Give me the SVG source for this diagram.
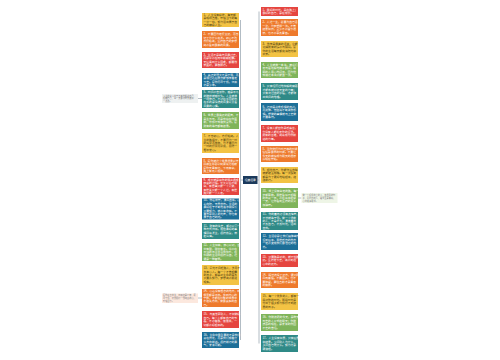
<svg xmlns="http://www.w3.org/2000/svg" width="500" height="360" viewBox="0 0 500 360">
<style>
text{font-family:"Noto Sans CJK SC","Noto Sans",sans-serif;font-size:2.8px}
.w{fill:#fff}.d{fill:#4a3a10}.n{fill:#7a7a7a;font-size:2.2px}
.y{fill:#f3c344}.o{fill:#ee7a2c}.r{fill:#e5453f}.b{fill:#1d6f98}.t{fill:#2f8a87}.g{fill:#7fb45a}
.ln{stroke:#a9b4bd;stroke-width:0.9;fill:none}
</style>
<rect width="500" height="360" fill="#fff"/>
<g id="connectors">
<path class="ln" d="M240.5 20V340M240.5 180H243M259 11.5V343.5M257.5 180H259"/>
<path class="ln" d="M198 98.5H202M198 298H202M298 198H301.5"/>
</g>
<g id="center"><rect x="243" y="176" width="14.5" height="8" fill="#1b3a5c"/><text x="250.25" y="181" class="w" text-anchor="middle">经典语录</text></g>
<g id="L1"><rect class="y" x="202" y="13" width="37" height="14"/><text class="d" y="15.8"><tspan x="203.5">1、人生没有彩排，每天都</tspan><tspan x="203.5" dy="3.4">是现场直播，珍惜当下的每</tspan><tspan x="203.5" dy="3.4">一分一秒，努力活出属于自</tspan><tspan x="203.5" dy="3.4">己的精彩人生。</tspan></text></g>
<g id="L2"><rect class="o" x="202" y="31" width="37" height="17"/><text class="w" y="35.3"><tspan x="203.5">2、不要因为走得太远，而忘</tspan><tspan x="203.5" dy="3.4">记了为什么出发。初心不改</tspan><tspan x="203.5" dy="3.4">方得始终，坚持自己的梦想</tspan><tspan x="203.5" dy="3.4">终会看到最美的风景。</tspan></text></g>
<g id="L3"><rect class="r" x="202" y="52" width="37" height="16"/><text class="w" y="55.8"><tspan x="203.5">3、生活不是等待风暴过去，</tspan><tspan x="203.5" dy="3.4">而是学会在雨中翩翩起舞。</tspan><tspan x="203.5" dy="3.4">无论遇到什么困难，都要微</tspan><tspan x="203.5" dy="3.4">笑面对，勇敢前行。</tspan></text></g>
<g id="L4"><rect class="b" x="202" y="73" width="37" height="14"/><text class="w" y="75.8"><tspan x="203.5">4、真正的强大不是不哭，而</tspan><tspan x="203.5" dy="3.4">是哭过之后依然能够笑着走</tspan><tspan x="203.5" dy="3.4">下去。愿你历尽千帆，归来</tspan><tspan x="203.5" dy="3.4">仍是少年。</tspan></text></g>
<g id="L5"><rect class="t" x="202" y="90" width="37" height="18"/><text class="w" y="93.1"><tspan x="203.5">5、时间会告诉你，越是平凡</tspan><tspan x="203.5" dy="3.4">的陪伴就越长久。人生就像</tspan><tspan x="203.5" dy="3.4">一场旅行，不必在乎目的地</tspan><tspan x="203.5" dy="3.4">在乎的是沿途的风景以及看</tspan><tspan x="203.5" dy="3.4">风景的心情。</tspan></text></g>
<g id="L6"><rect class="g" x="202" y="112" width="37" height="17"/><text class="w" y="116.3"><tspan x="203.5">6、世界上最遥远的距离，不</tspan><tspan x="203.5" dy="3.4">是生与死，而是我站在你面</tspan><tspan x="203.5" dy="3.4">前，你却不知道我爱你。愿</tspan><tspan x="203.5" dy="3.4">所有的等待都有结果。</tspan></text></g>
<g id="L7"><rect class="y" x="202" y="133" width="37" height="20"/><text class="d" y="137.1"><tspan x="203.5">7、不忘初心，方得始终。人</tspan><tspan x="203.5" dy="3.4">生的路很长，不要因为一时</tspan><tspan x="203.5" dy="3.4">的失意而放弃，也不要因为</tspan><tspan x="203.5" dy="3.4">一时的得意而骄傲，保持一</tspan><tspan x="203.5" dy="3.4">颗平常心。</tspan></text></g>
<g id="L8"><rect class="o" x="202" y="158" width="37" height="16"/><text class="w" y="161.8"><tspan x="203.5">8、愿你被这个世界温柔以待</tspan><tspan x="203.5" dy="3.4">即使生命总以刻薄荒芜相欺</tspan><tspan x="203.5" dy="3.4">愿你天黑有灯，下雨有伞，</tspan><tspan x="203.5" dy="3.4">路上有良人相伴。</tspan></text></g>
<g id="L9"><rect class="r" x="202" y="178" width="37" height="17"/><text class="w" y="180.6"><tspan x="203.5">9、成长就是将你的哭声调成</tspan><tspan x="203.5" dy="3.4">静音的过程。长大以后才明</tspan><tspan x="203.5" dy="3.4">白，有些事只能一个人做，</tspan><tspan x="203.5" dy="3.4">有些关只能一个人过，有些</tspan><tspan x="203.5" dy="3.4">路只能一个人走。</tspan></text></g>
<g id="L10"><rect class="b" x="202" y="198.5" width="37" height="21"/><text class="w" y="201.4"><tspan x="203.5">10、你若盛开，清风自来。心</tspan><tspan x="203.5" dy="3.4">若向阳，无畏悲伤。生活的</tspan><tspan x="203.5" dy="3.4">美好在于不断地追求和探索</tspan><tspan x="203.5" dy="3.4">只要努力，就会有收获。不</tspan><tspan x="203.5" dy="3.4">要羡慕别人的光芒，你也有</tspan><tspan x="203.5" dy="3.4">属于自己的光。</tspan></text></g>
<g id="L11"><rect class="t" x="202" y="223" width="37" height="16"/><text class="w" y="226.8"><tspan x="203.5">11、所有的失去，都会以另一</tspan><tspan x="203.5" dy="3.4">种方式归来。相信美好的事</tspan><tspan x="203.5" dy="3.4">情即将发生，保持热爱，奔</tspan><tspan x="203.5" dy="3.4">赴山海。</tspan></text></g>
<g id="L12"><rect class="g" x="202" y="243" width="37" height="18"/><text class="w" y="246.1"><tspan x="203.5">12、人生如茶，静心以对，苦</tspan><tspan x="203.5" dy="3.4">中有甜，甜中有苦。学会在</tspan><tspan x="203.5" dy="3.4">平淡的日子里寻找快乐，在</tspan><tspan x="203.5" dy="3.4">忙碌的生活中保持从容，这</tspan><tspan x="203.5" dy="3.4">便是一种智慧。</tspan></text></g>
<g id="L13"><rect class="y" x="202" y="265" width="37" height="20"/><text class="d" y="269.1"><tspan x="203.5">13、星光不问赶路人，岁月不</tspan><tspan x="203.5" dy="3.4">负有心人。每一个不曾起舞</tspan><tspan x="203.5" dy="3.4">的日子，都是对生命的辜负</tspan><tspan x="203.5" dy="3.4">只要肯努力，梦想终会照进</tspan><tspan x="203.5" dy="3.4">现实。</tspan></text></g>
<g id="L14"><rect class="o" x="202" y="289" width="37" height="18"/><text class="w" y="292.1"><tspan x="203.5">14、心若没有栖息的地方，到</tspan><tspan x="203.5" dy="3.4">哪里都是流浪。找到内心的</tspan><tspan x="203.5" dy="3.4">宁静，才能在纷繁的世界中</tspan><tspan x="203.5" dy="3.4">不迷失方向，做最真实的自</tspan><tspan x="203.5" dy="3.4">己。</tspan></text></g>
<g id="L15"><rect class="r" x="202" y="311" width="37" height="17"/><text class="w" y="315.3"><tspan x="203.5">15、与其羡慕别人，不如做好</tspan><tspan x="203.5" dy="3.4">自己。每个人都有自己的节</tspan><tspan x="203.5" dy="3.4">奏，不必着急，慢慢来，一</tspan><tspan x="203.5" dy="3.4">切都会好起来的。</tspan></text></g>
<g id="L16"><rect class="b" x="202" y="332" width="37" height="16"/><text class="w" y="335.8"><tspan x="203.5">16、生命中最重要的不是我们</tspan><tspan x="203.5" dy="3.4">身在何处，而是我们朝着什</tspan><tspan x="203.5" dy="3.4">么方向前进。保持前行的勇</tspan><tspan x="203.5" dy="3.4">气，未来可期。</tspan></text></g>
<g id="R1"><rect class="r" x="261" y="7" width="37" height="9"/><text class="w" y="10.7"><tspan x="262.5">1、最好的时光，是在路上；</tspan><tspan x="262.5" dy="3.4">最好的自己，是在成长。</tspan></text></g>
<g id="R2"><rect class="o" x="261" y="19" width="37" height="17"/><text class="w" y="23.3"><tspan x="262.5">2、人这一生，总要为自己活</tspan><tspan x="262.5" dy="3.4">一次，为梦想拼一次。不管</tspan><tspan x="262.5" dy="3.4">结果如何，至少不会留下遗</tspan><tspan x="262.5" dy="3.4">憾，也不会辜负青春。</tspan></text></g>
<g id="R3"><rect class="y" x="261" y="41" width="37" height="16"/><text class="d" y="44.8"><tspan x="262.5">3、微笑是最美的语言，它能</tspan><tspan x="262.5" dy="3.4">化解所有的误会与隔阂。愿</tspan><tspan x="262.5" dy="3.4">你的生活每天都充满阳光和</tspan><tspan x="262.5" dy="3.4">欢笑。</tspan></text></g>
<g id="R4"><rect class="g" x="261" y="62" width="37" height="16"/><text class="w" y="65.8"><tspan x="262.5">4、人生就像一本书，傻瓜们</tspan><tspan x="262.5" dy="3.4">走马看花般地随手翻阅，聪</tspan><tspan x="262.5" dy="3.4">明的人用心地阅读，因为他</tspan><tspan x="262.5" dy="3.4">知道这本书只能读一次。</tspan></text></g>
<g id="R5"><rect class="t" x="261" y="83" width="37" height="17"/><text class="w" y="87.3"><tspan x="262.5">5、只有经历过地狱般的磨砺</tspan><tspan x="262.5" dy="3.4">才能练就创造天堂的力量；</tspan><tspan x="262.5" dy="3.4">只有流过血的手指，才能弹</tspan><tspan x="262.5" dy="3.4">出世间的绝唱。</tspan></text></g>
<g id="R6"><rect class="b" x="261" y="103" width="37" height="18"/><text class="w" y="107.8"><tspan x="262.5">6、行动是治愈恐惧的良药，</tspan><tspan x="262.5" dy="3.4">而犹豫、拖延将不断滋养恐</tspan><tspan x="262.5" dy="3.4">惧。想做的事情就马上去做</tspan><tspan x="262.5" dy="3.4">不要等待。</tspan></text></g>
<g id="R7"><rect class="r" x="261" y="125" width="37" height="17"/><text class="w" y="129.3"><tspan x="262.5">7、没有人能替你承受痛苦，</tspan><tspan x="262.5" dy="3.4">也没有人能抢走你的坚强。</tspan><tspan x="262.5" dy="3.4">所有的苦难，终将成为你前</tspan><tspan x="262.5" dy="3.4">进的力量。</tspan></text></g>
<g id="R8"><rect class="o" x="261" y="146" width="37" height="16"/><text class="w" y="149.8"><tspan x="262.5">8、当你觉得为时已晚的时候</tspan><tspan x="262.5" dy="3.4">恰恰是最早的时候。不要让</tspan><tspan x="262.5" dy="3.4">今天的懒惰成为明天的遗憾</tspan><tspan x="262.5" dy="3.4">从现在开始。</tspan></text></g>
<g id="R9"><rect class="y" x="261" y="167" width="37" height="16"/><text class="d" y="170.8"><tspan x="262.5">9、相信自己，你能作茧自缚</tspan><tspan x="262.5" dy="3.4">就能破茧成蝶。每一次跌倒</tspan><tspan x="262.5" dy="3.4">都是为了更好地站起来，继</tspan><tspan x="262.5" dy="3.4">续前行。</tspan></text></g>
<g id="R10"><rect class="g" x="261" y="188" width="37" height="20"/><text class="w" y="192.1"><tspan x="262.5">10、世上没有白走的路，每一</tspan><tspan x="262.5" dy="3.4">步都算数。那些看似不起眼</tspan><tspan x="262.5" dy="3.4">的日复一日，会在将来的某</tspan><tspan x="262.5" dy="3.4">一天，让你看到坚持的意义</tspan><tspan x="262.5" dy="3.4">加油吧。</tspan></text></g>
<g id="R11"><rect class="t" x="261" y="212" width="37" height="18"/><text class="w" y="215.1"><tspan x="262.5">11、你的善良必须有点锋芒，</tspan><tspan x="262.5" dy="3.4">不然就等于零。做一个温暖</tspan><tspan x="262.5" dy="3.4">的人，不卑不亢，清澈善良</tspan><tspan x="262.5" dy="3.4">不负自己，不负时光，活出</tspan><tspan x="262.5" dy="3.4">自我。</tspan></text></g>
<g id="R12"><rect class="b" x="261" y="233" width="37" height="17"/><text class="w" y="237.3"><tspan x="262.5">12、生活总是让我们遍体鳞伤</tspan><tspan x="262.5" dy="3.4">但到后来，那些受伤的地方</tspan><tspan x="262.5" dy="3.4">一定会变成我们最强壮的地</tspan><tspan x="262.5" dy="3.4">方。</tspan></text></g>
<g id="R13"><rect class="r" x="261" y="254" width="37" height="13"/><text class="w" y="258"><tspan x="262.5">13、只要路是对的，就不怕路</tspan><tspan x="262.5" dy="3.4">远。坚持走下去，终会到达</tspan><tspan x="262.5" dy="3.4">心中的远方。</tspan></text></g>
<g id="R14"><rect class="o" x="261" y="272" width="37" height="16"/><text class="w" y="275.8"><tspan x="262.5">14、既然选择了远方，便只顾</tspan><tspan x="262.5" dy="3.4">风雨兼程。不要回头，也不</tspan><tspan x="262.5" dy="3.4">要停留，勇往直前才是青春</tspan><tspan x="262.5" dy="3.4">的模样。</tspan></text></g>
<g id="R15"><rect class="y" x="261" y="293" width="37" height="17"/><text class="d" y="297.3"><tspan x="262.5">15、每一个优秀的人，都有一</tspan><tspan x="262.5" dy="3.4">段沉默的时光。那段时光是</tspan><tspan x="262.5" dy="3.4">付出了很多努力却得不到结</tspan><tspan x="262.5" dy="3.4">果的日子。</tspan></text></g>
<g id="R16"><rect class="g" x="261" y="314" width="37" height="17"/><text class="w" y="318.3"><tspan x="262.5">16、你所浪费的今天，是昨天</tspan><tspan x="262.5" dy="3.4">死去的人奢望的明天；你所</tspan><tspan x="262.5" dy="3.4">厌恶的现在，是未来的你回</tspan><tspan x="262.5" dy="3.4">不去的曾经。</tspan></text></g>
<g id="R17"><rect class="t" x="261" y="335" width="37" height="17"/><text class="w" y="339.3"><tspan x="262.5">17、人生没有如果，只有后果</tspan><tspan x="262.5" dy="3.4">和结果。少问别人为什么，</tspan><tspan x="262.5" dy="3.4">多问自己凭什么。努力才是</tspan><tspan x="262.5" dy="3.4">硬道理。</tspan></text></g>
<g id="N1"><rect x="162" y="94" width="36" height="9" fill="#eef1f1"/><text class="n" y="96.6"><tspan x="163">人生的意义在于不断地挑战自己，</tspan><tspan x="163" dy="2.8">超越自己，每一天都比昨天更好</tspan><tspan x="163" dy="2.8">一点点。</tspan></text></g>
<g id="N2"><rect x="162" y="293.5" width="36" height="9.5" fill="#fce8de"/><text class="n" y="296.3"><tspan x="163">愿你走出半生，归来仍是少年，历</tspan><tspan x="163" dy="2.8">尽千帆，仍然保持一颗纯真的心，</tspan><tspan x="163" dy="2.8">珍惜当下。</tspan></text></g>
<g id="N3"><rect x="301.5" y="193" width="36" height="10" fill="#eef5e6"/><text class="n" y="196"><tspan x="302.5">做一个积极向上的人，读温柔的句</tspan><tspan x="302.5" dy="2.8">子，见阳光的人，眼里全是美好，</tspan><tspan x="302.5" dy="2.8">心中充满希望。</tspan></text></g>
</svg>
